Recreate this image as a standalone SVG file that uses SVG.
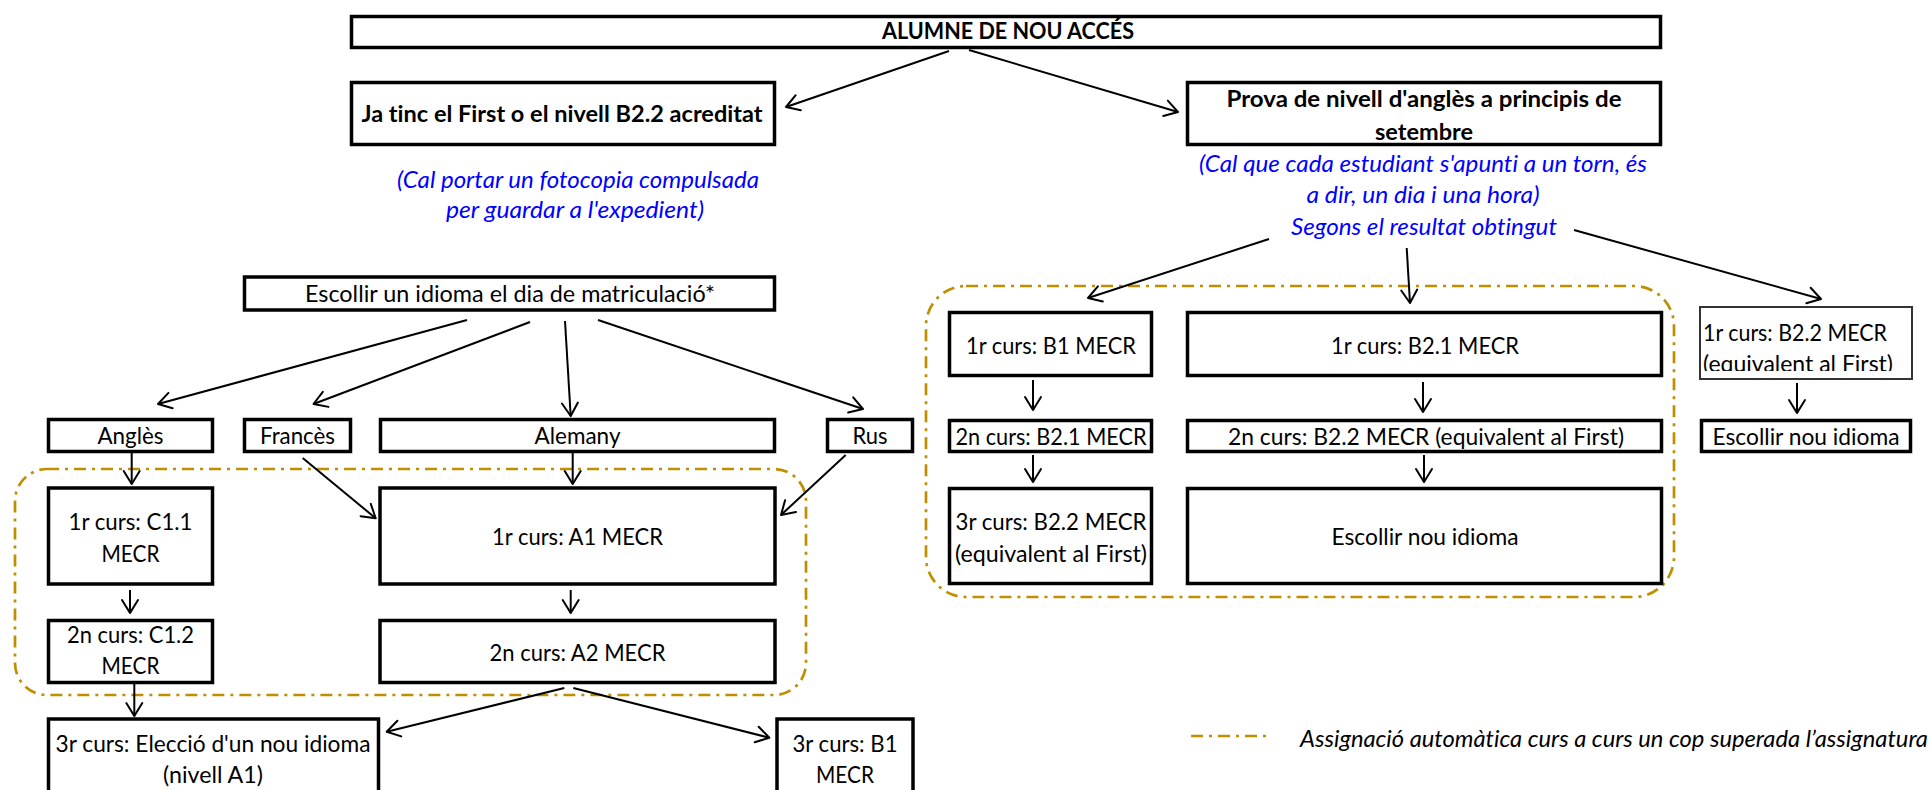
<svg xmlns="http://www.w3.org/2000/svg" width="1932" height="790" viewBox="0 0 1932 790">
<defs>
<style>
.bx{fill:#fff;stroke:#000;stroke-width:3.5}
.thin{fill:#fff;stroke:#333;stroke-width:2}
.t{font-family:Lato,"Liberation Sans",sans-serif;font-size:23.5px;fill:#000;text-anchor:middle;font-variant-ligatures:none}
.b{font-weight:bold}
.blue{fill:#0000FF;font-style:italic}
.it{font-style:italic}
.st{text-anchor:start}
.cn line{stroke:#000;stroke-width:2;marker-end:url(#arr)}
.dd{fill:none;stroke:#BF8F00;stroke-width:2.7;stroke-dasharray:12 6 3 6}
</style>
<marker id="arr" viewBox="-16 -11 19 22" refX="0" refY="0" markerWidth="19" markerHeight="22" markerUnits="userSpaceOnUse" orient="auto">
<path d="M-13,-8 L0,0 L-13,8" fill="none" stroke="#000" stroke-width="2" stroke-linejoin="round" stroke-linecap="round"/>
</marker>
<clipPath id="clipR"><rect x="1700" y="307" width="212" height="64"/></clipPath>
</defs>
<rect width="1932" height="790" fill="#fff"/>

<g id="groups">
<rect class="dd" x="15" y="469" width="791" height="226" rx="32"/>
<rect class="dd" x="926" y="286" width="748" height="311" rx="40"/>
</g>

<g id="n-top"><rect class="bx" x="351.5" y="16.5" width="1309" height="31"/>
<text class="t b" x="1008" y="39" textLength="252" lengthAdjust="spacingAndGlyphs">ALUMNE DE NOU ACCÉS</text></g>

<g id="n-jatinc"><rect class="bx" x="351.5" y="82.5" width="423" height="62"/>
<text class="t b" x="562" y="122" textLength="401" lengthAdjust="spacingAndGlyphs">Ja tinc el First o el nivell B2.2 acreditat</text></g>

<g id="n-note-left">
<text class="t blue" x="578" y="188" textLength="362" lengthAdjust="spacingAndGlyphs">(Cal portar un fotocopia compulsada</text>
<text class="t blue" x="575" y="218" textLength="258" lengthAdjust="spacingAndGlyphs">per guardar a l'expedient)</text></g>

<g id="n-prova"><rect class="bx" x="1187.5" y="82.5" width="473" height="62"/>
<text class="t b" x="1424" y="107" textLength="395" lengthAdjust="spacingAndGlyphs">Prova de nivell d'anglès a principis de</text>
<text class="t b" x="1424" y="140" textLength="98" lengthAdjust="spacingAndGlyphs">setembre</text></g>

<g id="n-note-right">
<text class="t blue" x="1423" y="172" textLength="448" lengthAdjust="spacingAndGlyphs">(Cal que cada estudiant s'apunti a un torn, és</text>
<text class="t blue" x="1423" y="203" textLength="233" lengthAdjust="spacingAndGlyphs">a dir, un dia i una hora)</text>
<text class="t blue" x="1424" y="235" textLength="266" lengthAdjust="spacingAndGlyphs">Segons el resultat obtingut</text></g>

<g id="n-escollir"><rect class="bx" x="244.5" y="277" width="530" height="33"/>
<text class="t" x="510" y="302" textLength="410" lengthAdjust="spacingAndGlyphs">Escollir un idioma el dia de matriculació*</text></g>

<g id="n-angles"><rect class="bx" x="48.5" y="419.5" width="164" height="32"/>
<text class="t" x="130.5" y="444" textLength="66" lengthAdjust="spacingAndGlyphs">Anglès</text></g>
<g id="n-frances"><rect class="bx" x="244.5" y="419.5" width="106" height="32"/>
<text class="t" x="297.5" y="444" textLength="75" lengthAdjust="spacingAndGlyphs">Francès</text></g>
<g id="n-alemany"><rect class="bx" x="380.5" y="419.5" width="394" height="32"/>
<text class="t" x="577.5" y="444" textLength="86" lengthAdjust="spacingAndGlyphs">Alemany</text></g>
<g id="n-rus"><rect class="bx" x="827.5" y="419.5" width="85" height="32"/>
<text class="t" x="870" y="444" textLength="35" lengthAdjust="spacingAndGlyphs">Rus</text></g>

<g id="n-c11"><rect class="bx" x="48.5" y="488" width="164" height="96"/>
<text class="t" x="130.5" y="530" textLength="124" lengthAdjust="spacingAndGlyphs">1r curs: C1.1</text>
<text class="t" x="130.5" y="562" textLength="58" lengthAdjust="spacingAndGlyphs">MECR</text></g>
<g id="n-c12"><rect class="bx" x="48.5" y="620.5" width="164" height="62"/>
<text class="t" x="130.5" y="643" textLength="127" lengthAdjust="spacingAndGlyphs">2n curs: C1.2</text>
<text class="t" x="130.5" y="674" textLength="58" lengthAdjust="spacingAndGlyphs">MECR</text></g>
<g id="n-a1"><rect class="bx" x="380" y="488" width="395" height="96"/>
<text class="t" x="577.5" y="545" textLength="171" lengthAdjust="spacingAndGlyphs">1r curs: A1 MECR</text></g>
<g id="n-a2"><rect class="bx" x="380" y="620.5" width="395" height="62"/>
<text class="t" x="577.5" y="661" textLength="176" lengthAdjust="spacingAndGlyphs">2n curs: A2 MECR</text></g>
<g id="n-3r-elec"><rect class="bx" x="48.5" y="719" width="330" height="90"/>
<text class="t" x="213" y="752" textLength="315" lengthAdjust="spacingAndGlyphs">3r curs: Elecció d'un nou idioma</text>
<text class="t" x="213" y="783" textLength="100" lengthAdjust="spacingAndGlyphs">(nivell A1)</text></g>
<g id="n-3r-b1"><rect class="bx" x="777" y="719" width="136" height="90"/>
<text class="t" x="845" y="752" textLength="105" lengthAdjust="spacingAndGlyphs">3r curs: B1</text>
<text class="t" x="845" y="783" textLength="58" lengthAdjust="spacingAndGlyphs">MECR</text></g>

<g id="n-b1"><rect class="bx" x="949.5" y="312.5" width="202" height="63"/>
<text class="t" x="1051" y="354" textLength="170" lengthAdjust="spacingAndGlyphs">1r curs: B1 MECR</text></g>
<g id="n-b21"><rect class="bx" x="949.5" y="420.5" width="202" height="31"/>
<text class="t" x="1051" y="445" textLength="191" lengthAdjust="spacingAndGlyphs">2n curs: B2.1 MECR</text></g>
<g id="n-b22"><rect class="bx" x="949.5" y="488.5" width="202" height="95"/>
<text class="t" x="1051" y="530" textLength="191" lengthAdjust="spacingAndGlyphs">3r curs: B2.2 MECR</text>
<text class="t" x="1051" y="562" textLength="192" lengthAdjust="spacingAndGlyphs">(equivalent al First)</text></g>

<g id="n-m1"><rect class="bx" x="1187.5" y="312.5" width="474" height="63"/>
<text class="t" x="1425" y="354" textLength="188" lengthAdjust="spacingAndGlyphs">1r curs: B2.1 MECR</text></g>
<g id="n-m2"><rect class="bx" x="1187.5" y="420.5" width="474" height="31"/>
<text class="t" x="1426" y="445" textLength="396" lengthAdjust="spacingAndGlyphs">2n curs: B2.2 MECR (equivalent al First)</text></g>
<g id="n-m3"><rect class="bx" x="1187.5" y="488.5" width="474" height="95"/>
<text class="t" x="1425" y="545" textLength="187" lengthAdjust="spacingAndGlyphs">Escollir nou idioma</text></g>

<g id="n-r1"><rect class="thin" x="1700" y="307" width="212" height="72"/>
<g clip-path="url(#clipR)">
<text class="t st" x="1703" y="341" textLength="184" lengthAdjust="spacingAndGlyphs">1r curs: B2.2 MECR</text>
<text class="t st" x="1703" y="372" textLength="190" lengthAdjust="spacingAndGlyphs">(equivalent al First)</text></g></g>
<g id="n-r2"><rect class="bx" x="1701.5" y="420.5" width="209" height="31"/>
<text class="t" x="1806" y="445" textLength="187" lengthAdjust="spacingAndGlyphs">Escollir nou idioma</text></g>

<g id="connectors" class="cn">
<line x1="949" y1="51" x2="786" y2="107"/>
<line x1="969" y1="50" x2="1178" y2="112"/>
<line x1="467" y1="320" x2="158" y2="404"/>
<line x1="530" y1="322" x2="313.5" y2="404"/>
<line x1="565" y1="321" x2="570.7" y2="416"/>
<line x1="598" y1="320" x2="863" y2="409"/>
<line x1="131.7" y1="453" x2="131.7" y2="484"/>
<line x1="302.7" y1="458" x2="375.7" y2="518.3"/>
<line x1="572.7" y1="453" x2="572.7" y2="484"/>
<line x1="845.7" y1="455" x2="781" y2="515"/>
<line x1="130" y1="590" x2="130" y2="613"/>
<line x1="570.7" y1="590" x2="570.7" y2="613"/>
<line x1="134.3" y1="684" x2="134.3" y2="716"/>
<line x1="564.3" y1="688" x2="386.7" y2="731.7"/>
<line x1="573.3" y1="688" x2="769.3" y2="737.7"/>
<line x1="1269" y1="239" x2="1088" y2="298"/>
<line x1="1406.7" y1="248" x2="1410" y2="303"/>
<line x1="1574" y1="230" x2="1821" y2="299"/>
<line x1="1033" y1="380" x2="1033" y2="410"/>
<line x1="1033" y1="455" x2="1033" y2="482"/>
<line x1="1423" y1="382" x2="1423" y2="412"/>
<line x1="1424" y1="455" x2="1424" y2="482"/>
<line x1="1797" y1="383" x2="1797" y2="413"/>
</g>

<g id="legend">
<line class="dd" x1="1191" y1="736" x2="1270" y2="736"/>
<text class="t it st" x="1300" y="747" textLength="628" lengthAdjust="spacingAndGlyphs">Assignació automàtica curs a curs un cop superada l’assignatura</text>
</g>
</svg>
